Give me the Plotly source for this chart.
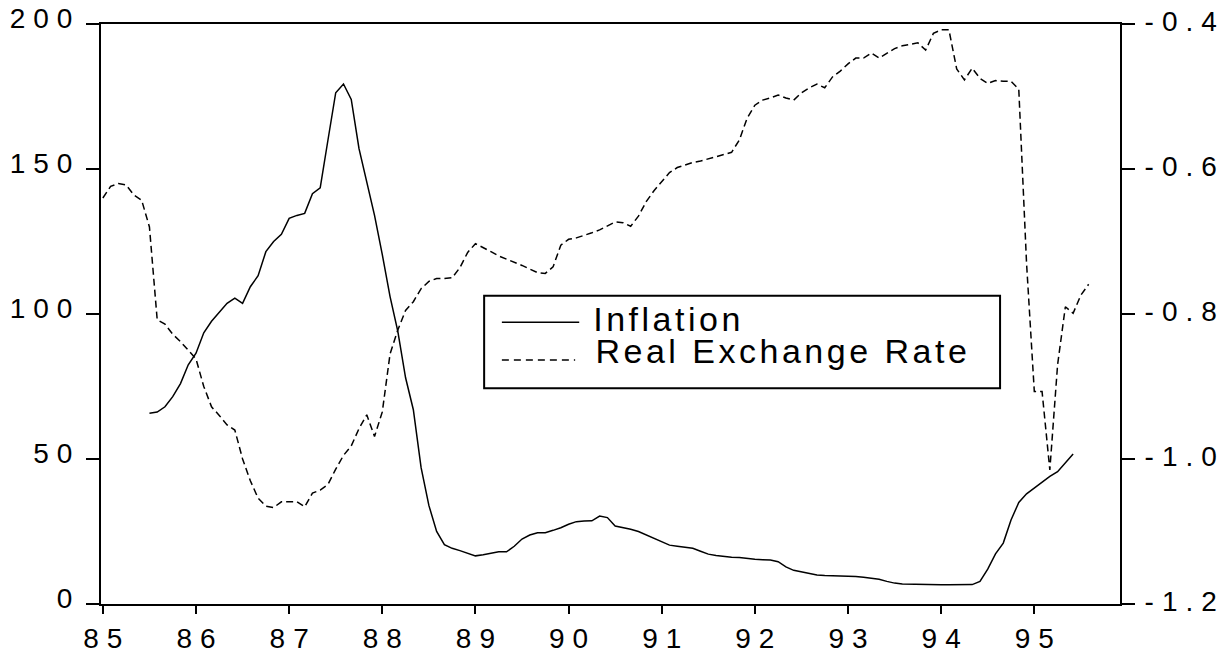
import plotly.graph_objects as go

# monthly observations, first one in 1985:01
rer_start = (85, 1)
real_exchange_rate = [
    -0.640, -0.624, -0.620, -0.622, -0.636, -0.643, -0.680, -0.808, -0.814, -0.828, -0.838, -0.850,
    -0.862, -0.900, -0.928, -0.940, -0.953, -0.960, -1.000, -1.030, -1.054, -1.065, -1.067, -1.059,
    -1.059, -1.059, -1.066, -1.047, -1.043, -1.035, -1.014, -0.995, -0.982, -0.958, -0.939, -0.969,
    -0.935, -0.855, -0.822, -0.795, -0.783, -0.765, -0.755, -0.751, -0.751, -0.750, -0.736, -0.715,
    -0.703, -0.708, -0.714, -0.720, -0.724, -0.728, -0.733, -0.738, -0.743, -0.744, -0.735, -0.705,
    -0.697, -0.695, -0.692, -0.688, -0.684, -0.678, -0.673, -0.674, -0.679, -0.665, -0.645, -0.630,
    -0.617, -0.605, -0.598, -0.594, -0.591, -0.589, -0.586, -0.583, -0.581, -0.577, -0.560, -0.530,
    -0.512, -0.505, -0.502, -0.498, -0.502, -0.505, -0.495, -0.488, -0.483, -0.488, -0.473, -0.465,
    -0.455, -0.447, -0.447, -0.440, -0.447, -0.440, -0.434, -0.430, -0.428, -0.426, -0.436, -0.413,
    -0.408, -0.408, -0.462, -0.477, -0.461, -0.475, -0.482, -0.478, -0.479, -0.479, -0.490, -0.730,
    -0.907, -0.907, -1.015, -0.870, -0.790, -0.799, -0.774, -0.759,
]

# inflation starts in 1985:07
infl_start = (85, 7)
inflation = [
    65.8, 66.2, 68.0, 71.5, 76.0, 82.5,
    86.5, 93.5, 97.5, 100.8, 103.7, 105.5, 103.7, 109.4, 113.2, 121.5, 125.0, 127.5,
    133.0, 134.0, 134.7, 141.5, 143.5, 160.0, 176.3, 179.3, 174.0, 157.0, 145.0, 134.0,
    120.5, 106.0, 94.0, 78.0, 67.0, 47.0, 34.0, 25.0, 20.5, 19.2, 18.4, 17.5,
    16.6, 17.0, 17.6, 18.0, 18.0, 19.9, 22.4, 23.8, 24.6, 24.6, 25.4, 26.3,
    27.5, 28.4, 28.6, 28.7, 30.3, 29.8, 26.9, 26.4, 25.8, 25.0, 23.8, 22.6,
    21.4, 20.3, 19.9, 19.6, 19.2, 18.2, 17.2, 16.7, 16.3, 16.1, 16.0, 15.6,
    15.4, 15.3, 15.2, 14.6, 12.8, 11.6, 11.0, 10.5, 10.0, 9.8, 9.7, 9.7,
    9.7, 9.5, 9.2, 8.8, 8.5, 7.8, 7.2, 6.9, 6.8, 6.7, 6.6, 6.6,
    6.6, 6.6, 6.6, 6.6, 6.7, 7.8, 12.0, 17.3, 21.0, 29.0, 35.0, 38.0,
    40.0, 42.2, 44.0, 45.6, 48.5, 51.7,
]

years = list(range(85, 96))
year_labels = [str(y) for y in years]
left_ticks = [0, 50, 100, 150, 200]
right_ticks = [-1.2, -1.0, -0.8, -0.6, -0.4]
right_labels = ["-1.2", "-1.0", "-0.8", "-0.6", "-0.4"]


def month_axis(start, n):
    """Monthly dates as fractional years (85.0 = Jan 1985)"""
    y, m = start
    return [y + (m - 1 + i) / 12 for i in range(n)]


FONT = "Liberation Sans, Arial, sans-serif"

fig = go.Figure()

fig.add_trace(go.Scatter(
    x=month_axis(infl_start, len(inflation)), y=inflation,
    mode="lines", name="Inflation",
    line=dict(color="black", width=1.5),
))
fig.add_trace(go.Scatter(
    x=month_axis(rer_start, len(real_exchange_rate)), y=real_exchange_rate,
    mode="lines", name="Real Exchange Rate", yaxis="y2",
    line=dict(color="black", width=1.5, dash="7px,4px"),
))

axis_style = dict(
    showline=True, linecolor="black", linewidth=2,
    ticks="outside", tickcolor="black", tickwidth=1.5,
    showgrid=False, zeroline=False, automargin=False,
)

fig.update_layout(
    width=1228, height=654,
    margin=dict(l=101, r=108, t=24, b=50),
    plot_bgcolor="white", paper_bgcolor="white",
    showlegend=False,
    font=dict(family=FONT, size=28, color="black"),
    xaxis=dict(range=[84.98, 95.92], tickvals=years, ticktext=year_labels,
               mirror=True, ticklen=8, ticklabelshift=4, **axis_style),
    yaxis=dict(range=[0, 200], tickvals=left_ticks, ticklen=13,
               ticklabelshift=-6, **axis_style),
    yaxis2=dict(range=[-1.2, -0.4], tickvals=right_ticks, ticktext=right_labels,
                overlaying="y", side="right", ticklen=13, ticklabelshift=-3,
                ticklabelstandoff=4, **axis_style),
)

# legend box drawn by hand (EViews style: long line samples)
fig.add_shape(type="rect", xref="paper", yref="paper",
              x0=0.376, x1=0.8823, y0=0.372, y1=0.5316,
              line=dict(color="black", width=2), fillcolor="white", layer="above")
fig.add_shape(type="line", xref="paper", yref="paper",
              x0=0.3934, x1=0.4693, y0=0.4857, y1=0.4857,
              line=dict(color="black", width=1.5))
fig.add_shape(type="line", xref="paper", yref="paper",
              x0=0.3934, x1=0.4653, y0=0.4207, y1=0.4207,
              line=dict(color="black", width=1.5, dash="7px,5px"))
# centred anchors, so the extra letter spacing spreads evenly around them
fig.add_annotation(text="Inflation", xref="paper", yref="paper",
                   x=0.5573, y=0.4914, xanchor="center", yanchor="middle",
                   showarrow=False, font=dict(family=FONT, size=34, color="black"))
fig.add_annotation(text="Real Exchange Rate", xref="paper", yref="paper",
                   x=0.6691, y=0.4362, xanchor="center", yanchor="middle",
                   showarrow=False, font=dict(family=FONT, size=34, color="black"))

# wide letter spacing of the original printout
post = """
var st = document.createElement('style');
st.textContent = 'body {margin: 0;} ' +
                 '.xtick text, .ytick text, .y2tick text {letter-spacing: 8px;} ' +
                 '.annotation-text {letter-spacing: 3.5px;}';
document.head.appendChild(st);
"""

fig.write_html("out.html", post_script=post, config={"displayModeBar": False})
